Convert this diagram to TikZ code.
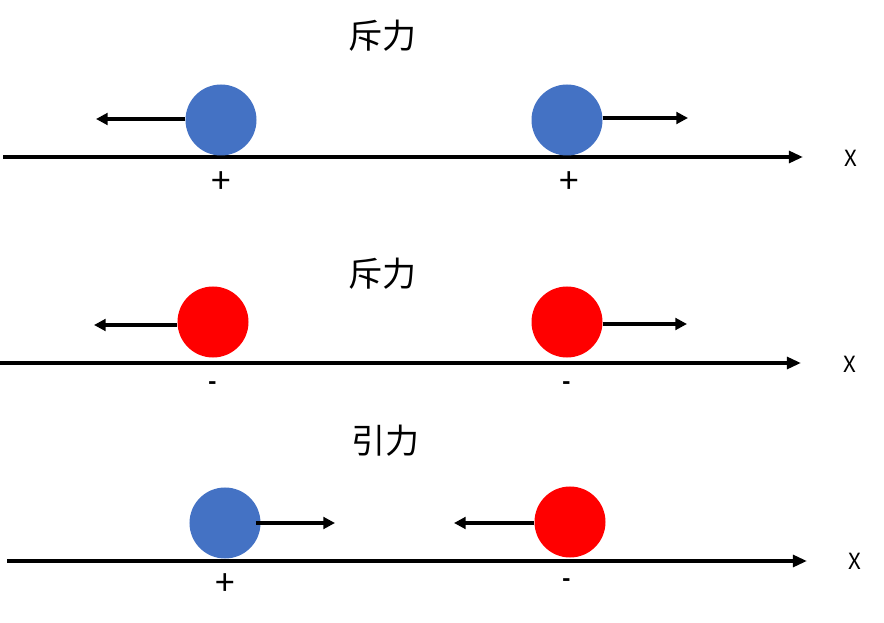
\documentclass[tikz,border=0pt]{standalone}
\usepackage{fontspec}
\setmainfont{Noto Sans CJK SC}
\usetikzlibrary{arrows.meta}
\definecolor{plusblue}{HTML}{4472C4}
\definecolor{minusred}{HTML}{FF0000}
\tikzset{
  ball/.style={circle, inner sep=0pt, minimum size=2.13cm},
  axis/.style={line width=3.4pt, -{Triangle[length=12pt, width=10pt]}},
  force/.style={line width=3.2pt, -{Triangle[length=10pt, width=10pt]}},
  title/.style={font=\fontsize{29}{34}\selectfont},
  sign/.style={font=\fontsize{19}{22}\selectfont},
  plus/.style={font=\fontsize{30}{34}\selectfont}
}
\begin{document}
\begin{tikzpicture}[x=0.03cm, y=-0.03cm]
\useasboundingbox (0,0) rectangle (884,623);
% repulsion, both plus
\node[title] (t1) at (382,36) {斥力};
\coordinate (a1s) at (3,157); \coordinate (a1e) at (803,157);
\draw[axis] (a1s) -- (a1e);
\node[sign] (x1) at (851,158) {X};
\node[ball, fill=plusblue] (p1) at (221,120) {};
\node[ball, fill=plusblue] (p2) at (567,120) {};
\coordinate (f1) at (96,119); \coordinate (f2) at (688,118);
\draw[force] (p1.west |- f1) -- (f1);
\draw[force] (p2.east |- f2) -- (f2);
\node[plus] (s1) at (221,183) {+};
\node[plus] (s2) at (569,183) {+};
% repulsion, both minus
\node[title] (t2) at (382,274) {斥力};
\coordinate (a2s) at (0,363); \coordinate (a2e) at (801,363);
\draw[axis] (a2s) -- (a2e);
\node[sign] (x2) at (850,364) {X};
\node[ball, fill=minusred] (p3) at (213,322) {};
\node[ball, fill=minusred] (p4) at (567,322) {};
\coordinate (f3) at (94,325); \coordinate (f4) at (687,324);
\draw[force] (p3.west |- f3) -- (f3);
\draw[force] (p4.east |- f4) -- (f4);
\node[sign] (s3) at (213,386) {\textbf{-}};
\node[sign] (s4) at (567,386) {\textbf{-}};
% attraction
\node[title] (t3) at (385,441) {引力};
\coordinate (a3s) at (7,561); \coordinate (a3e) at (807,561);
\draw[axis] (a3s) -- (a3e);
\node[sign] (x3) at (855,561) {X};
\node[ball, fill=plusblue] (p5) at (225,523) {};
\node[ball, fill=minusred] (p6) at (570,522) {};
\coordinate (f5) at (335,523); \coordinate (f6) at (454,523);
\draw[force] ([xshift=-0.15cm]p5.east) -- (f5);
\draw[force] (p6.west |- f6) -- (f6);
\node[plus] (s5) at (225,585) {+};
\node[sign] (s6) at (567,583) {\textbf{-}};
\end{tikzpicture}
\end{document}
